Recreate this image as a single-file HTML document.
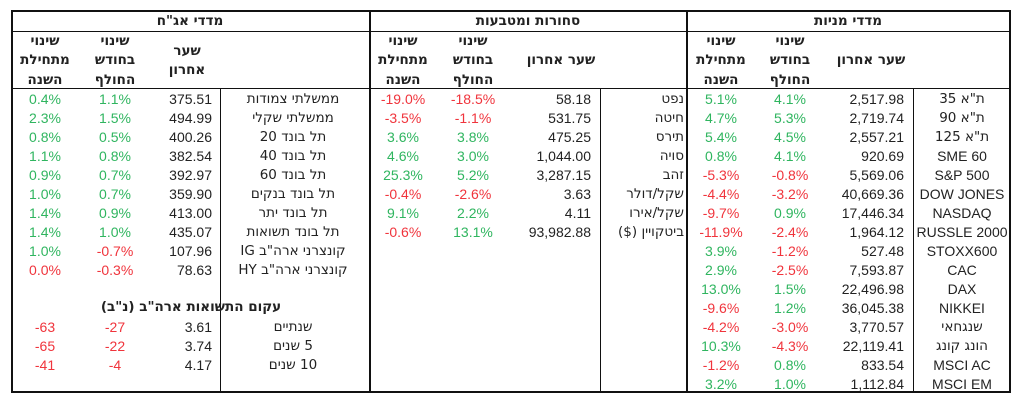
<!DOCTYPE html>
<html><head><meta charset="utf-8">
<style>
html,body{margin:0;padding:0;background:#fff;}
#wrap{position:relative;width:1024px;height:405px;overflow:hidden;font-family:"Liberation Sans","DejaVu Sans",sans-serif;font-size:14px;color:#222;}
.ln{position:absolute;background:#111;}
.t{position:absolute;white-space:nowrap;line-height:19px;height:19px;}
.c{transform:translateX(-50%);text-align:center;}
.r{transform:translateX(-100%);text-align:right;}
.b{font-weight:bold;}
.g{color:#2fb55f;}
.n{color:#f0343c;}
.h{direction:rtl;font-family:"DejaVu Sans",sans-serif;font-size:13.5px;}
</style></head><body>
<div id="wrap">
  <div class="ln" style="left:11px;top:10px;width:1000px;height:2px"></div>
  <div class="ln" style="left:11px;top:391px;width:1000px;height:2px"></div>
  <div class="ln" style="left:11px;top:10px;width:2px;height:383px"></div>
  <div class="ln" style="left:1009px;top:10px;width:2px;height:383px"></div>
  <div class="ln" style="left:11px;top:31px;width:1000px;height:1px"></div>
  <div class="ln" style="left:11px;top:88px;width:1000px;height:1px"></div>
  <div class="ln" style="left:369px;top:10px;width:2px;height:383px"></div>
  <div class="ln" style="left:686px;top:10px;width:2px;height:383px"></div>
  <div class="ln" style="left:220px;top:88px;width:1px;height:305px"></div>
  <div class="ln" style="left:600px;top:88px;width:1px;height:305px"></div>
  <div class="ln" style="left:913px;top:88px;width:1px;height:305px"></div>
</div>
<script>
const wrap=document.getElementById('wrap');
function txt(s,x,y,cls){const d=document.createElement('div');d.className='t '+cls;d.style.left=x+'px';d.style.top=(y-9.5)+'px';d.textContent=s;wrap.appendChild(d);return d;}

let e;
e=txt('מדדי אג"ח',190,21,'c b h');


e=txt('סחורות ומטבעות',528,21,'c b h');


e=txt('מדדי מניות',848,21,'c b h');



const headerCols=[[45,115],[403,473],[721,790]];
headerCols.forEach(function(p,i){
  ['שינוי','מתחילת','השנה'].forEach(function(w,k){
    e=txt(w,p[0],41+k*19.5,'c b h');
    
    
  });
  ['שינוי','בחודש','החולף'].forEach(function(w,k){
    e=txt(w,p[1],41+k*19.5,'c b h');
    
    
  });
});
e=txt('שער',187,51,'c b h');


e=txt('אחרון',187,70,'c b h');


e=txt('שער אחרון',561,60,'c b h');


e=txt('שער אחרון',871,60,'c b h');



const bondNames=['ממשלתי צמודות','ממשלתי שקלי','תל בונד 20','תל בונד 40','תל בונד 60','תל בונד בנקים','תל בונד יתר','תל בונד תשואות','קונצרני ארה"ב IG','קונצרני ארה"ב HY'];
const bondPrices=['375.51','494.99','400.26','382.54','392.97','359.90','413.00','435.07','107.96','78.63'];
const bondMonth=[1.1,1.5,0.5,0.8,0.7,0.7,0.9,1.0,-0.7,-0.3];
const bondYtd=[0.4,2.3,0.8,1.1,0.9,1.0,1.4,1.4,1.0,0.0];
const yieldNames=['שנתיים','5 שנים','10 שנים'];
const yieldPrices=['3.61','3.74','4.17'];
const yieldMonth=[-27,-22,-4];
const yieldYtd=[-63,-65,-41];
const comNames=['נפט','חיטה','תירס','סויה','זהב','שקל/דולר','שקל/אירו','ביטקויין ($)'];
const comPrices=['58.18','531.75','475.25','1,044.00','3,287.15','3.63','4.11','93,982.88'];
const comMonth=[-18.5,-1.1,3.8,3.0,5.2,-2.6,2.2,13.1];
const comYtd=[-19.0,-3.5,3.6,4.6,25.3,-0.4,9.1,-0.6];
const stkNames=['ת"א 35','ת"א 90','ת"א 125','SME 60','S&P 500','DOW JONES','NASDAQ','RUSSLE 2000','STOXX600','CAC','DAX','NIKKEI','שנגחאי','הונג קונג','MSCI AC','MSCI EM'];
const stkPrices=['2,517.98','2,719.74','2,557.21','920.69','5,569.06','40,669.36','17,446.34','1,964.12','527.48','7,593.87','22,496.98','36,045.38','3,770.57','22,119.41','833.54','1,112.84'];
const stkMonth=[4.1,5.3,4.5,4.1,-0.8,-3.2,0.9,-2.4,-1.2,-2.5,1.5,1.2,-3.0,-4.3,0.8,1.0];
const stkYtd=[5.1,4.7,5.4,0.8,-5.3,-4.4,-9.7,-11.9,3.9,2.9,13.0,-9.6,-4.2,10.3,-1.2,3.2];

function rowY(i){return 99+19*i;}
function pct(v){return v.toFixed(1)+'%';}

function section(names,prices,month,ytd,startRow,nameX,nameCls,priceX,monX,ytdX,isPct,zeroRed){
  names.forEach(function(nm,i){
    const y=rowY(startRow+i);
    const isHeb=/[\u0590-\u05FF]/.test(nm);
    let d=txt(nm,nameX,y,nameCls+(isHeb?' h':''));
    
    
    d=txt(prices[i],priceX,y,'r');
    
    
    const mv=month[i],yv=ytd[i];
    d=txt(isPct?pct(mv):String(mv),monX,y,'c '+((mv<0||(zeroRed&&mv===0))?'n':'g'));
    
    
    d=txt(isPct?pct(yv):String(yv),ytdX,y,'c '+((yv<0||(zeroRed&&yv===0))?'n':'g'));
    
    
  });
}
section(bondNames,bondPrices,bondMonth,bondYtd,0,293,'c',212,115,45,true,true);
section(yieldNames,yieldPrices,yieldMonth,yieldYtd,12,293,'c',212,115,45,false,true);
section(comNames,comPrices,comMonth,comYtd,0,684,'r',591,473,403,true,false);
section(stkNames,stkPrices,stkMonth,stkYtd,0,962,'c',904,790,721,true,false);

e=txt('עקום התשואות ארה"ב (נ"ב)',191,307,'c b h');


</script>
</body></html>
